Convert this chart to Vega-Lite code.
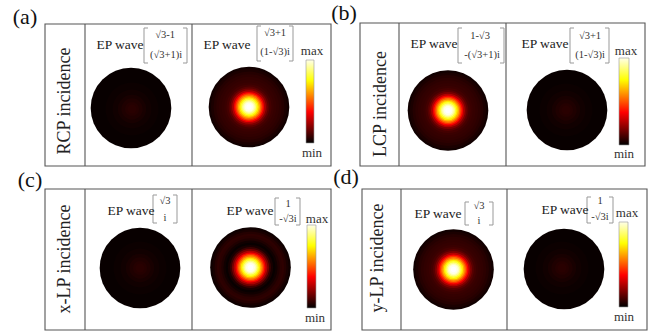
{
  "$schema": "https://vega.github.io/schema/vega-lite/v6.json",
  "width": 661,
  "height": 335,
  "padding": 0,
  "autosize": {"type": "fit", "contains": "padding"},
  "background": "white",
  "config": {"view": {"stroke": null}, "font": "Liberation Serif"},
  "datasets": {
    "boxes": [
      {"x1": 45, "x2": 331, "y1": 24, "y2": 166},
      {"x1": 360, "x2": 645, "y1": 23, "y2": 166},
      {"x1": 45, "x2": 331, "y1": 189, "y2": 330},
      {"x1": 362, "x2": 647, "y1": 189, "y2": 330}
    ],
    "dividers": [
      {"x1": 85, "y1": 24, "x2": 85, "y2": 166},
      {"x1": 192, "y1": 24, "x2": 192, "y2": 166},
      {"x1": 399, "y1": 23, "x2": 399, "y2": 166},
      {"x1": 506, "y1": 23, "x2": 506, "y2": 166},
      {"x1": 85, "y1": 189, "x2": 85, "y2": 330},
      {"x1": 192, "y1": 189, "x2": 192, "y2": 330},
      {"x1": 401, "y1": 189, "x2": 401, "y2": 330},
      {"x1": 507, "y1": 189, "x2": 507, "y2": 330}
    ],
    "brackets": [
      {"x1": 144, "y1": 28, "x2": 144, "y2": 63}, {"x1": 144, "y1": 28, "x2": 148, "y2": 28}, {"x1": 144, "y1": 63, "x2": 148, "y2": 63},
      {"x1": 187, "y1": 28, "x2": 187, "y2": 63}, {"x1": 183, "y1": 28, "x2": 187, "y2": 28}, {"x1": 183, "y1": 63, "x2": 187, "y2": 63},
      {"x1": 257, "y1": 26, "x2": 257, "y2": 61}, {"x1": 257, "y1": 26, "x2": 261, "y2": 26}, {"x1": 257, "y1": 61, "x2": 261, "y2": 61},
      {"x1": 293, "y1": 26, "x2": 293, "y2": 61}, {"x1": 289, "y1": 26, "x2": 293, "y2": 26}, {"x1": 289, "y1": 61, "x2": 293, "y2": 61},
      {"x1": 458, "y1": 28, "x2": 458, "y2": 63}, {"x1": 458, "y1": 28, "x2": 462, "y2": 28}, {"x1": 458, "y1": 63, "x2": 462, "y2": 63},
      {"x1": 504, "y1": 28, "x2": 504, "y2": 63}, {"x1": 500, "y1": 28, "x2": 504, "y2": 28}, {"x1": 500, "y1": 63, "x2": 504, "y2": 63},
      {"x1": 570, "y1": 28, "x2": 570, "y2": 63}, {"x1": 570, "y1": 28, "x2": 574, "y2": 28}, {"x1": 570, "y1": 63, "x2": 574, "y2": 63},
      {"x1": 609, "y1": 28, "x2": 609, "y2": 63}, {"x1": 605, "y1": 28, "x2": 609, "y2": 28}, {"x1": 605, "y1": 63, "x2": 609, "y2": 63},
      {"x1": 153, "y1": 195, "x2": 153, "y2": 223}, {"x1": 153, "y1": 195, "x2": 157, "y2": 195}, {"x1": 153, "y1": 223, "x2": 157, "y2": 223},
      {"x1": 177, "y1": 195, "x2": 177, "y2": 223}, {"x1": 173, "y1": 195, "x2": 177, "y2": 195}, {"x1": 173, "y1": 223, "x2": 177, "y2": 223},
      {"x1": 275, "y1": 198, "x2": 275, "y2": 225}, {"x1": 275, "y1": 198, "x2": 279, "y2": 198}, {"x1": 275, "y1": 225, "x2": 279, "y2": 225},
      {"x1": 300, "y1": 198, "x2": 300, "y2": 225}, {"x1": 296, "y1": 198, "x2": 300, "y2": 198}, {"x1": 296, "y1": 225, "x2": 300, "y2": 225},
      {"x1": 465, "y1": 202, "x2": 465, "y2": 225}, {"x1": 465, "y1": 202, "x2": 469, "y2": 202}, {"x1": 465, "y1": 225, "x2": 469, "y2": 225},
      {"x1": 493, "y1": 202, "x2": 493, "y2": 225}, {"x1": 489, "y1": 202, "x2": 493, "y2": 202}, {"x1": 489, "y1": 225, "x2": 493, "y2": 225},
      {"x1": 587, "y1": 197, "x2": 587, "y2": 223}, {"x1": 587, "y1": 197, "x2": 591, "y2": 197}, {"x1": 587, "y1": 223, "x2": 591, "y2": 223},
      {"x1": 613, "y1": 197, "x2": 613, "y2": 223}, {"x1": 609, "y1": 197, "x2": 613, "y2": 197}, {"x1": 609, "y1": 223, "x2": 613, "y2": 223}
    ],
    "bars": [
      {"x1": 306, "x2": 314, "y1": 60, "y2": 143},
      {"x1": 619, "x2": 629, "y1": 58, "y2": 145},
      {"x1": 307, "x2": 316, "y1": 225, "y2": 308},
      {"x1": 619, "x2": 628, "y1": 222, "y2": 307}
    ],
    "rings": [
      {"cx": 131, "cy": 108, "r": 45.5, "v": 0.012}, {"cx": 132, "cy": 109, "r": 30, "v": 0.018}, {"cx": 132, "cy": 109, "r": 22, "v": 0.025}, {"cx": 132, "cy": 109, "r": 16, "v": 0.035}, {"cx": 132, "cy": 109, "r": 12, "v": 0.045}, {"cx": 132, "cy": 109, "r": 8, "v": 0.055}, {"cx": 132, "cy": 109, "r": 5, "v": 0.06},
      {"cx": 567, "cy": 110, "r": 45.5, "v": 0.012}, {"cx": 566, "cy": 110, "r": 30, "v": 0.018}, {"cx": 566, "cy": 110, "r": 22, "v": 0.025}, {"cx": 566, "cy": 110, "r": 16, "v": 0.035}, {"cx": 566, "cy": 110, "r": 12, "v": 0.045}, {"cx": 566, "cy": 110, "r": 8, "v": 0.055}, {"cx": 566, "cy": 110, "r": 5, "v": 0.06},
      {"cx": 140, "cy": 268, "r": 45.5, "v": 0.012}, {"cx": 140, "cy": 268, "r": 30, "v": 0.018}, {"cx": 140, "cy": 268, "r": 22, "v": 0.025}, {"cx": 140, "cy": 268, "r": 16, "v": 0.035}, {"cx": 140, "cy": 268, "r": 12, "v": 0.045}, {"cx": 140, "cy": 268, "r": 8, "v": 0.055}, {"cx": 140, "cy": 268, "r": 5, "v": 0.06},
      {"cx": 564, "cy": 269, "r": 45.5, "v": 0.012}, {"cx": 562, "cy": 268, "r": 30, "v": 0.018}, {"cx": 562, "cy": 268, "r": 22, "v": 0.025}, {"cx": 562, "cy": 268, "r": 16, "v": 0.035}, {"cx": 562, "cy": 268, "r": 12, "v": 0.045}, {"cx": 562, "cy": 268, "r": 8, "v": 0.055}, {"cx": 562, "cy": 268, "r": 5, "v": 0.06},

      {"cx": 249, "cy": 107, "r": 45.5, "v": 0.025}, {"cx": 249, "cy": 107, "r": 43, "v": 0.04}, {"cx": 249, "cy": 107, "r": 40, "v": 0.055}, {"cx": 249, "cy": 107, "r": 37, "v": 0.065}, {"cx": 249, "cy": 107, "r": 34, "v": 0.072}, {"cx": 249, "cy": 107, "r": 31, "v": 0.078}, {"cx": 249, "cy": 107, "r": 28, "v": 0.085}, {"cx": 249, "cy": 107, "r": 25.5, "v": 0.1}, {"cx": 249, "cy": 107, "r": 23, "v": 0.13}, {"cx": 249, "cy": 107, "r": 21, "v": 0.18}, {"cx": 249, "cy": 107, "r": 19, "v": 0.26}, {"cx": 249, "cy": 107, "r": 17, "v": 0.36}, {"cx": 249, "cy": 107, "r": 15.5, "v": 0.45}, {"cx": 249, "cy": 107, "r": 14, "v": 0.54}, {"cx": 249, "cy": 107, "r": 12.5, "v": 0.63}, {"cx": 249, "cy": 107, "r": 11, "v": 0.72}, {"cx": 249, "cy": 107, "r": 9.5, "v": 0.8}, {"cx": 249, "cy": 107, "r": 8, "v": 0.88}, {"cx": 249, "cy": 107, "r": 6.5, "v": 0.94}, {"cx": 249, "cy": 107, "r": 5, "v": 0.98}, {"cx": 249, "cy": 107, "r": 3, "v": 1.0},

      {"cx": 448, "cy": 110.5, "r": 45.5, "v": 0.025}, {"cx": 448, "cy": 110.5, "r": 43, "v": 0.04}, {"cx": 448, "cy": 110.5, "r": 40, "v": 0.055}, {"cx": 448, "cy": 110.5, "r": 37, "v": 0.065}, {"cx": 448, "cy": 110.5, "r": 34, "v": 0.072}, {"cx": 448, "cy": 110.5, "r": 31, "v": 0.078}, {"cx": 448, "cy": 110.5, "r": 28, "v": 0.085}, {"cx": 448, "cy": 110.5, "r": 25.5, "v": 0.1}, {"cx": 448, "cy": 110.5, "r": 23, "v": 0.13}, {"cx": 448, "cy": 110.5, "r": 21, "v": 0.18}, {"cx": 448, "cy": 110.5, "r": 19, "v": 0.26}, {"cx": 448, "cy": 110.5, "r": 17, "v": 0.36}, {"cx": 448, "cy": 110.5, "r": 15.5, "v": 0.45}, {"cx": 448, "cy": 110.5, "r": 14, "v": 0.54}, {"cx": 448, "cy": 110.5, "r": 12.5, "v": 0.63}, {"cx": 448, "cy": 110.5, "r": 11, "v": 0.72}, {"cx": 448, "cy": 110.5, "r": 9.5, "v": 0.8}, {"cx": 448, "cy": 110.5, "r": 8, "v": 0.88}, {"cx": 448, "cy": 110.5, "r": 6.5, "v": 0.94}, {"cx": 448, "cy": 110.5, "r": 5, "v": 0.98}, {"cx": 448, "cy": 110.5, "r": 3, "v": 1.0},

      {"cx": 453.5, "cy": 269.5, "r": 45.5, "v": 0.025}, {"cx": 453.5, "cy": 269.5, "r": 43, "v": 0.04}, {"cx": 453.5, "cy": 269.5, "r": 40, "v": 0.055}, {"cx": 453.5, "cy": 269.5, "r": 37, "v": 0.065}, {"cx": 453.5, "cy": 269.5, "r": 34, "v": 0.072}, {"cx": 453.5, "cy": 269.5, "r": 31, "v": 0.078}, {"cx": 453.5, "cy": 269.5, "r": 28, "v": 0.085}, {"cx": 453.5, "cy": 269.5, "r": 25.5, "v": 0.1}, {"cx": 453.5, "cy": 269.5, "r": 23, "v": 0.13}, {"cx": 453.5, "cy": 269.5, "r": 21, "v": 0.18}, {"cx": 453.5, "cy": 269.5, "r": 19, "v": 0.26}, {"cx": 453.5, "cy": 269.5, "r": 17, "v": 0.36}, {"cx": 453.5, "cy": 269.5, "r": 15.5, "v": 0.45}, {"cx": 453.5, "cy": 269.5, "r": 14, "v": 0.54}, {"cx": 453.5, "cy": 269.5, "r": 12.5, "v": 0.63}, {"cx": 453.5, "cy": 269.5, "r": 11, "v": 0.72}, {"cx": 453.5, "cy": 269.5, "r": 9.5, "v": 0.8}, {"cx": 453.5, "cy": 269.5, "r": 8, "v": 0.88}, {"cx": 453.5, "cy": 269.5, "r": 6.5, "v": 0.94}, {"cx": 453.5, "cy": 269.5, "r": 5, "v": 0.98}, {"cx": 453.5, "cy": 269.5, "r": 3, "v": 1.0},

      {"cx": 250.5, "cy": 267.5, "r": 45.5, "v": 0.02}, {"cx": 250.5, "cy": 267.5, "r": 43, "v": 0.035}, {"cx": 250.5, "cy": 267.5, "r": 40.5, "v": 0.055}, {"cx": 250.5, "cy": 267.5, "r": 38, "v": 0.068}, {"cx": 250.5, "cy": 267.5, "r": 35.5, "v": 0.062}, {"cx": 250.5, "cy": 267.5, "r": 33, "v": 0.045}, {"cx": 250.5, "cy": 267.5, "r": 30.5, "v": 0.025}, {"cx": 250.5, "cy": 267.5, "r": 28, "v": 0.012}, {"cx": 250.5, "cy": 267.5, "r": 25.5, "v": 0.035}, {"cx": 250.5, "cy": 267.5, "r": 23, "v": 0.09}, {"cx": 250.5, "cy": 267.5, "r": 21, "v": 0.17}, {"cx": 250.5, "cy": 267.5, "r": 19, "v": 0.26}, {"cx": 250.5, "cy": 267.5, "r": 17, "v": 0.36}, {"cx": 250.5, "cy": 267.5, "r": 15.5, "v": 0.45}, {"cx": 250.5, "cy": 267.5, "r": 14, "v": 0.54}, {"cx": 250.5, "cy": 267.5, "r": 12.5, "v": 0.63}, {"cx": 250.5, "cy": 267.5, "r": 11, "v": 0.72}, {"cx": 250.5, "cy": 267.5, "r": 9.5, "v": 0.8}, {"cx": 250.5, "cy": 267.5, "r": 8, "v": 0.88}, {"cx": 250.5, "cy": 267.5, "r": 6.5, "v": 0.94}, {"cx": 250.5, "cy": 267.5, "r": 5, "v": 0.98}, {"cx": 250.5, "cy": 267.5, "r": 3, "v": 1.0}
    ],
    "texts": [
      {"g": "panel", "x": 25, "y": 17, "t": "(a)"},
      {"g": "panel", "x": 344, "y": 13, "t": "(b)"},
      {"g": "panel", "x": 30, "y": 180, "t": "(c)"},
      {"g": "panel", "x": 346, "y": 177, "t": "(d)"},
      {"g": "inc", "x": 65, "y": 101, "t": "RCP incidence"},
      {"g": "inc", "x": 381, "y": 104, "t": "LCP incidence"},
      {"g": "inc", "x": 65, "y": 259, "t": "x-LP incidence"},
      {"g": "inc", "x": 378, "y": 258, "t": "y-LP incidence"},
      {"g": "ep", "x": 120, "y": 45, "t": "EP wave"},
      {"g": "ep", "x": 227, "y": 45, "t": "EP wave"},
      {"g": "ep", "x": 434, "y": 44, "t": "EP wave"},
      {"g": "ep", "x": 545, "y": 44, "t": "EP wave"},
      {"g": "ep", "x": 131, "y": 211, "t": "EP wave"},
      {"g": "ep", "x": 250, "y": 211, "t": "EP wave"},
      {"g": "ep", "x": 438, "y": 214, "t": "EP wave"},
      {"g": "ep", "x": 565, "y": 210, "t": "EP wave"},
      {"g": "entry", "x": 165, "y": 35, "t": "√3-1"},
      {"g": "entry", "x": 166, "y": 55, "t": "(√3+1)i"},
      {"g": "entry", "x": 275, "y": 33, "t": "√3+1"},
      {"g": "entry", "x": 275, "y": 52, "t": "(1-√3)i"},
      {"g": "entry", "x": 480, "y": 36, "t": "1-√3"},
      {"g": "entry", "x": 482, "y": 55, "t": "-(√3+1)i"},
      {"g": "entry", "x": 590, "y": 36, "t": "√3+1"},
      {"g": "entry", "x": 590, "y": 55, "t": "(1-√3)i"},
      {"g": "entry", "x": 165, "y": 201, "t": "√3"},
      {"g": "entry", "x": 165, "y": 218, "t": "i"},
      {"g": "entry", "x": 288, "y": 204, "t": "1"},
      {"g": "entry", "x": 288, "y": 219, "t": "-√3i"},
      {"g": "entry", "x": 479, "y": 206, "t": "√3"},
      {"g": "entry", "x": 479, "y": 221, "t": "i"},
      {"g": "entry", "x": 600, "y": 201, "t": "1"},
      {"g": "entry", "x": 600, "y": 217, "t": "-√3i"},
      {"g": "mm", "x": 312, "y": 51, "t": "max"},
      {"g": "mm", "x": 312, "y": 153, "t": "min"},
      {"g": "mm", "x": 626, "y": 51, "t": "max"},
      {"g": "mm", "x": 624, "y": 154, "t": "min"},
      {"g": "mm", "x": 317, "y": 219, "t": "max"},
      {"g": "mm", "x": 315, "y": 318, "t": "min"},
      {"g": "mm", "x": 627, "y": 213, "t": "max"},
      {"g": "mm", "x": 624, "y": 317, "t": "min"}
    ]
  },
  "layer": [
    {
      "data": {"name": "rings"},
      "mark": {"type": "point", "shape": "circle", "filled": true, "opacity": 1, "strokeWidth": 0},
      "encoding": {
        "x": {"field": "cx", "type": "quantitative", "scale": {"domain": [0, 661], "nice": false}, "axis": null},
        "y": {"field": "cy", "type": "quantitative", "scale": {"domain": [0, 335], "nice": false, "reverse": true}, "axis": null},
        "size": {"field": "r", "type": "quantitative", "scale": {"type": "pow", "exponent": 2, "domain": [0, 50], "range": [0, 7854]}, "legend": null},
        "color": {"field": "v", "type": "quantitative", "scale": {"type": "linear", "zero": false, "nice": false, "interpolate": "rgb", "domain": [0, 0.375, 0.75, 1], "range": ["#000000", "#ff0000", "#ffff00", "#ffffff"]}, "legend": null},
        "order": {"field": "r", "sort": "descending"}
      }
    },
    {
      "data": {"name": "boxes"},
      "mark": {"type": "rect", "fillOpacity": 0, "stroke": "#555555", "strokeWidth": 1.1},
      "encoding": {
        "x": {"field": "x1", "type": "quantitative"},
        "x2": {"field": "x2"},
        "y": {"field": "y1", "type": "quantitative"},
        "y2": {"field": "y2"}
      }
    },
    {
      "data": {"name": "dividers"},
      "mark": {"type": "rule", "stroke": "#555555", "strokeWidth": 1.1},
      "encoding": {
        "x": {"field": "x1", "type": "quantitative"},
        "x2": {"field": "x2"},
        "y": {"field": "y1", "type": "quantitative"},
        "y2": {"field": "y2"}
      }
    },
    {
      "data": {"name": "brackets"},
      "mark": {"type": "rule", "stroke": "#999999", "strokeWidth": 1},
      "encoding": {
        "x": {"field": "x1", "type": "quantitative"},
        "x2": {"field": "x2"},
        "y": {"field": "y1", "type": "quantitative"},
        "y2": {"field": "y2"}
      }
    },
    {
      "data": {"name": "bars"},
      "mark": {
        "type": "rect",
        "stroke": "#999999",
        "strokeWidth": 0.6,
        "fill": {"gradient": "linear", "x1": 0, "y1": 1, "x2": 0, "y2": 0,
          "stops": [
            {"offset": 0, "color": "#000000"},
            {"offset": 0.375, "color": "#ff0000"},
            {"offset": 0.75, "color": "#ffff00"},
            {"offset": 1, "color": "#ffffe8"}
          ]}
      },
      "encoding": {
        "x": {"field": "x1", "type": "quantitative"},
        "x2": {"field": "x2"},
        "y": {"field": "y1", "type": "quantitative"},
        "y2": {"field": "y2"}
      }
    },
    {
      "data": {"name": "texts"},
      "transform": [{"filter": "datum.g === 'panel'"}],
      "mark": {"type": "text", "font": "Liberation Serif, Times New Roman, serif", "fontSize": 22, "align": "center", "baseline": "middle", "color": "#111111"},
      "encoding": {
        "x": {"field": "x", "type": "quantitative"},
        "y": {"field": "y", "type": "quantitative"},
        "text": {"field": "t"}
      }
    },
    {
      "data": {"name": "texts"},
      "transform": [{"filter": "datum.g === 'inc'"}],
      "mark": {"type": "text", "font": "Liberation Serif, Times New Roman, serif", "fontSize": 18, "angle": 270, "align": "center", "baseline": "middle", "color": "#222222"},
      "encoding": {
        "x": {"field": "x", "type": "quantitative"},
        "y": {"field": "y", "type": "quantitative"},
        "text": {"field": "t"}
      }
    },
    {
      "data": {"name": "texts"},
      "transform": [{"filter": "datum.g === 'ep'"}],
      "mark": {"type": "text", "font": "Liberation Serif, Times New Roman, serif", "fontSize": 13.5, "align": "center", "baseline": "middle", "color": "#222222"},
      "encoding": {
        "x": {"field": "x", "type": "quantitative"},
        "y": {"field": "y", "type": "quantitative"},
        "text": {"field": "t"}
      }
    },
    {
      "data": {"name": "texts"},
      "transform": [{"filter": "datum.g === 'entry'"}],
      "mark": {"type": "text", "font": "Liberation Serif, Times New Roman, serif", "fontSize": 10.5, "align": "center", "baseline": "middle", "color": "#333333"},
      "encoding": {
        "x": {"field": "x", "type": "quantitative"},
        "y": {"field": "y", "type": "quantitative"},
        "text": {"field": "t"}
      }
    },
    {
      "data": {"name": "texts"},
      "transform": [{"filter": "datum.g === 'mm'"}],
      "mark": {"type": "text", "font": "Liberation Serif, Times New Roman, serif", "fontSize": 13, "align": "center", "baseline": "middle", "color": "#333333"},
      "encoding": {
        "x": {"field": "x", "type": "quantitative"},
        "y": {"field": "y", "type": "quantitative"},
        "text": {"field": "t"}
      }
    }
  ]
}
